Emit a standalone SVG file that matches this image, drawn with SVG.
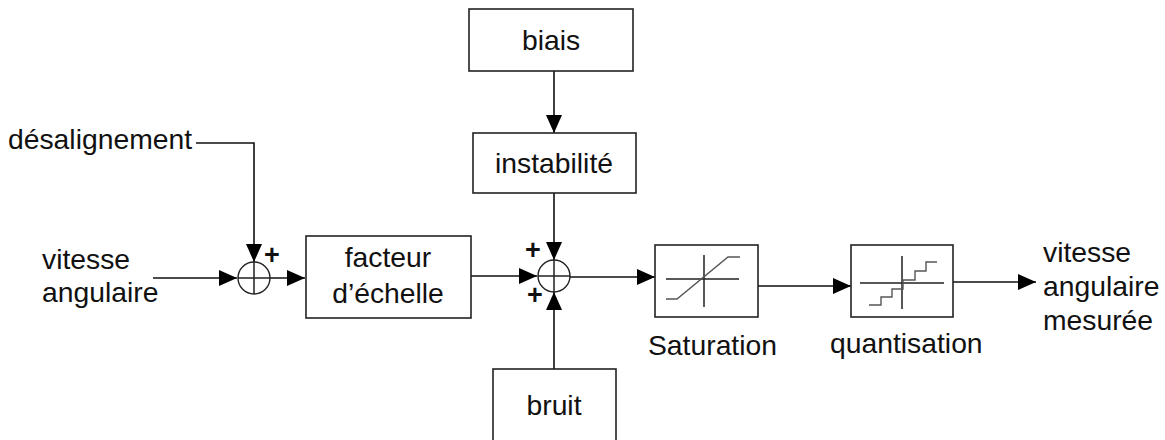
<svg xmlns="http://www.w3.org/2000/svg" width="1165" height="440" viewBox="0 0 1165 440">
  <defs>
    <style>
      .box { fill: #ffffff; stroke: #222222; stroke-width: 1.6; }
      .sum { fill: #ffffff; stroke: #222222; stroke-width: 1.4; }
      .wire { fill: none; stroke: #111111; stroke-width: 1.6; }
      .glyph { fill: none; stroke: #222222; stroke-width: 1.5; }
      .curve { fill: none; stroke: #555555; stroke-width: 1.4; }
      .lbl { font-family: "Liberation Sans", Arial, sans-serif; font-size: 28.3px; fill: #111111; }
      .mid { text-anchor: middle; }
      .sign { font-family: "Liberation Sans", Arial, sans-serif; font-size: 27px; font-weight: bold; fill: #111111; text-anchor: middle; }
    </style>
    <marker id="arrow" viewBox="0 0 18 16" refX="18" refY="8" markerWidth="18" markerHeight="16" markerUnits="userSpaceOnUse" orient="auto">
      <path d="M0,0 L18,8 L0,16 Z" fill="#000000"/>
    </marker>
  </defs>

  <rect width="1165" height="440" fill="#ffffff"/>

  <!-- connectors -->
  <g id="connectors">
    <path class="wire" d="M196,143 H254 V262" marker-end="url(#arrow)"/>
    <path class="wire" d="M153,278 H237" marker-end="url(#arrow)"/>
    <path class="wire" d="M270,278 H305" marker-end="url(#arrow)"/>
    <path class="wire" d="M471,276 H537" marker-end="url(#arrow)"/>
    <path class="wire" d="M554,71 V133" marker-end="url(#arrow)"/>
    <path class="wire" d="M554,193 V260" marker-end="url(#arrow)"/>
    <path class="wire" d="M554,369 V292" marker-end="url(#arrow)"/>
    <path class="wire" d="M570,277 H655" marker-end="url(#arrow)"/>
    <path class="wire" d="M758,286 H851" marker-end="url(#arrow)"/>
    <path class="wire" d="M953,282 H1036" marker-end="url(#arrow)"/>
  </g>

  <!-- free-standing signal labels -->
  <g id="in-desalignement">
    <text class="lbl" x="8" y="149">désalignement</text>
  </g>
  <g id="in-vitesse">
    <text class="lbl" x="42" y="269">vitesse</text>
    <text class="lbl" x="42" y="302">angulaire</text>
  </g>
  <g id="out-vitesse">
    <text class="lbl" x="1043" y="262">vitesse</text>
    <text class="lbl" x="1043" y="296">angulaire</text>
    <text class="lbl" x="1043" y="330">mesurée</text>
  </g>

  <!-- first summing junction -->
  <g id="sum1">
    <circle class="sum" cx="254" cy="278" r="16"/>
    <path class="glyph" d="M238,278 H270 M254,262 V294"/>
    <text class="sign" x="272" y="264">+</text>
  </g>

  <g id="facteur">
    <rect class="box" x="306" y="236" width="165" height="82"/>
    <text class="lbl mid" x="388" y="267">facteur</text>
    <text class="lbl mid" x="388" y="303">d’échelle</text>
  </g>

  <g id="biais">
    <rect class="box" x="469" y="9" width="164" height="62"/>
    <text class="lbl mid" x="551" y="50">biais</text>
  </g>

  <g id="instabilite">
    <rect class="box" x="473" y="133" width="163" height="60"/>
    <text class="lbl mid" x="554" y="173">instabilité</text>
  </g>

  <!-- second summing junction -->
  <g id="sum2">
    <circle class="sum" cx="554" cy="276" r="16"/>
    <path class="glyph" d="M538,276 H570 M554,260 V292"/>
    <text class="sign" x="533" y="259">+</text>
    <text class="sign" x="535" y="304">+</text>
  </g>

  <g id="bruit">
    <rect class="box" x="493" y="369" width="123" height="90"/>
    <text class="lbl mid" x="554" y="415">bruit</text>
  </g>

  <g id="saturation">
    <rect class="box" x="655" y="245" width="103" height="72"/>
    <path class="glyph" d="M666,279 H739 M704,255 V307"/>
    <path class="curve" d="M666,299 H677 L728,257 H740"/>
    <text class="lbl" x="648" y="355">Saturation</text>
  </g>

  <g id="quantisation">
    <rect class="box" x="851" y="245" width="102" height="72"/>
    <path class="glyph" d="M860,283 H944 M902,256 V309"/>
    <path class="curve" d="M869,305 H881 V297 H892 V289 H903 V280 H915 V271 H926 V262 H937"/>
    <text class="lbl" x="830" y="353">quantisation</text>
  </g>
</svg>
